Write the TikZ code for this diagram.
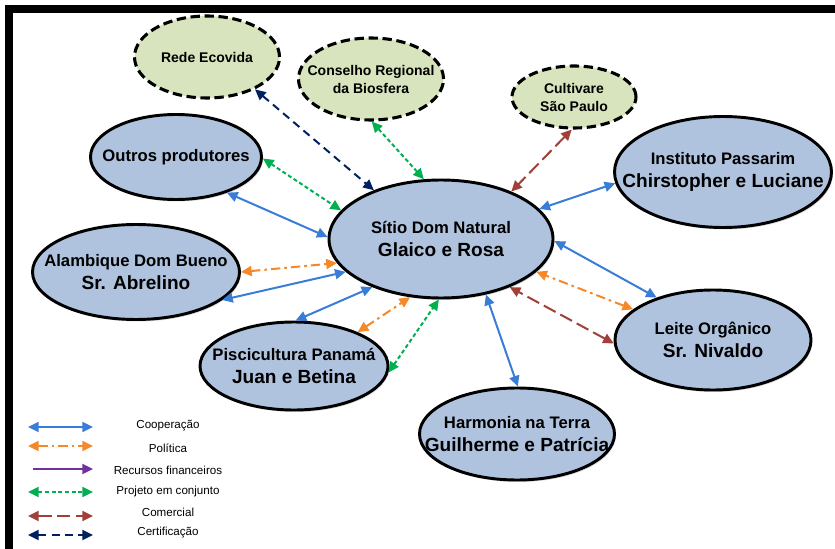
\documentclass[tikz,border=0pt]{standalone}
\usepackage{fontspec}
\setmainfont{Liberation Sans}
\usetikzlibrary{shapes.geometric,arrows.meta,shadows}
\definecolor{azulno}{RGB}{176,195,222}
\definecolor{verdeno}{RGB}{215,228,189}
\definecolor{coopcor}{RGB}{58,125,215}
\definecolor{polcor}{RGB}{245,136,40}
\definecolor{reccor}{RGB}{112,48,160}
\definecolor{projcor}{RGB}{0,176,80}
\definecolor{comcor}{RGB}{160,64,56}
\definecolor{certcor}{RGB}{0,32,96}

\tikzset{
  ator/.style={ellipse, draw, line width=2.2pt, fill=azulno, inner sep=0pt,
    drop shadow={shadow xshift=1pt, shadow yshift=-1.5pt, opacity=.3}},
  parceiro/.style={ellipse, draw, line width=2.3pt, dash pattern=on 7pt off 3.5pt,
    fill=verdeno, inner sep=0pt},
  tam/.style 2 args={minimum width=#1*0.75pt, minimum height=#2*0.75pt},
  rot/.style={align=center, inner sep=0pt, font=\bfseries\fontsize{12.5}{17}\selectfont},
  rotp/.style={align=center, inner sep=0pt, font=\bfseries\fontsize{10.5}{13.5}\selectfont},
  leg/.style={inner sep=0pt, font=\fontsize{8.7}{10}\selectfont},
  seta/.style={line width=1.5pt, >={Triangle[length=8pt,width=7.5pt]}, <->},
  coop/.style={seta, draw=coopcor},
  pol/.style={seta, draw=polcor, dash pattern=on 7pt off 3pt on 2pt off 3pt},
  rec/.style={seta, ->, draw=reccor},
  proj/.style={seta, draw=projcor, dash pattern=on 3pt off 2pt},
  com/.style={seta, draw=comcor, dash pattern=on 10pt off 4pt},
  cert/.style={seta, draw=certcor, dash pattern=on 6pt off 4pt}
}

\begin{document}
\begin{tikzpicture}[x=0.75pt, y=-0.75pt]
  \useasboundingbox (0,0) rectangle (835,549);
  \draw[line width=6pt] (9,549) |- (835,9);

  % atores
  \node[ator, tam={224}{118}] (sitio) at (441,239) {};
  \node[ator, tam={171}{85}] (outros) at (176,157) {};
  \node[ator, tam={207}{95}] (alambique) at (136,272) {};
  \node[ator, tam={188}{88}] (piscicultura) at (294,366) {};
  \node[ator, tam={195}{92}] (harmonia) at (517,434) {};
  \node[ator, tam={196}{100}] (leite) at (713,340) {};
  \node[ator, tam={217}{111}] (passarim) at (723,172) {};
  \node[parceiro, tam={145}{82}] (ecovida) at (207,57) {};
  \node[parceiro, tam={145}{82}] (conselho) at (371,79) {};
  \node[parceiro, tam={124}{62}] (cultivare) at (574,97) {};

  % relacoes
  \draw[cert] (ecovida.-34) -- (sitio.144);
  \draw[proj] (conselho.-89) -- (sitio.106);
  \draw[com] (cultivare.-94) -- (sitio.34);
  \draw[proj] (outros.-1) -- (sitio.164);
  \draw[coop] (outros.-35) -- (sitio.179);
  \draw[pol] (alambique.0) -- (sitio.193);
  \draw[coop] (alambique.-18) -- (sitio.199);
  \draw[coop] (piscicultura.88) -- (sitio.215);
  \draw[pol] (piscicultura.28) -- (sitio.242);
  \draw[proj] (piscicultura.-4) -- (sitio.268);
  \draw[coop] (harmonia.89) -- (sitio.-51);
  \draw[pol] (leite.159) -- (sitio.-19);
  \draw[com] (leite.182) -- (sitio.-35);
  \draw[coop] (leite.143) -- (sitio.-1.5);
  \draw[coop] (passarim.186) -- (sitio.17);

  % nomes
  \node[rot] (sitio-t) at (sitio) {Sítio Dom Natural\\{\fontsize{14.3}{17}\selectfont Glaico e Rosa}};
  \node[rot] (outros-t) at (outros) {Outros produtores};
  \node[rot] (alambique-t) at (alambique) {Alambique Dom Bueno\\{\fontsize{14.3}{17}\selectfont Sr. Abrelino}};
  \node[rot] (piscicultura-t) at (piscicultura) {Piscicultura Panamá\\{\fontsize{14.3}{17}\selectfont Juan e Betina}};
  \node[rot] (harmonia-t) at (harmonia) {Harmonia na Terra\\{\fontsize{14.3}{17}\selectfont Guilherme e Patrícia}};
  \node[rot] (leite-t) at (leite) {Leite Orgânico\\{\fontsize{14.3}{17}\selectfont Sr. Nivaldo}};
  \node[rot] (passarim-t) at (passarim) {Instituto Passarim\\{\fontsize{14.3}{17}\selectfont Chirstopher e Luciane}};
  \node[rotp] (ecovida-t) at (ecovida) {Rede Ecovida};
  \node[rotp] (conselho-t) at (conselho) {Conselho Regional\\da Biosfera};
  \node[rotp] (cultivare-t) at (cultivare) {Cultivare\\São Paulo};

  % legenda
  \foreach \t/\e/\xa/\y/\ty in {Cooperação/coop/28/427/426, Política/pol/28/446/448,
      Recursos financeiros/rec/33/469/470, Projeto em conjunto/proj/28/492/491,
      Comercial/com/28/516/512, Certificação/cert/28/535/533} {
    \coordinate (l-\e-a) at (\xa,\y);
    \coordinate (l-\e-b) at (93,\y);
    \draw[\e] (l-\e-a) -- (l-\e-b);
    \node[leg] (l-\e-t) at (168,\ty) {\t};
  }
\end{tikzpicture}
\end{document}
